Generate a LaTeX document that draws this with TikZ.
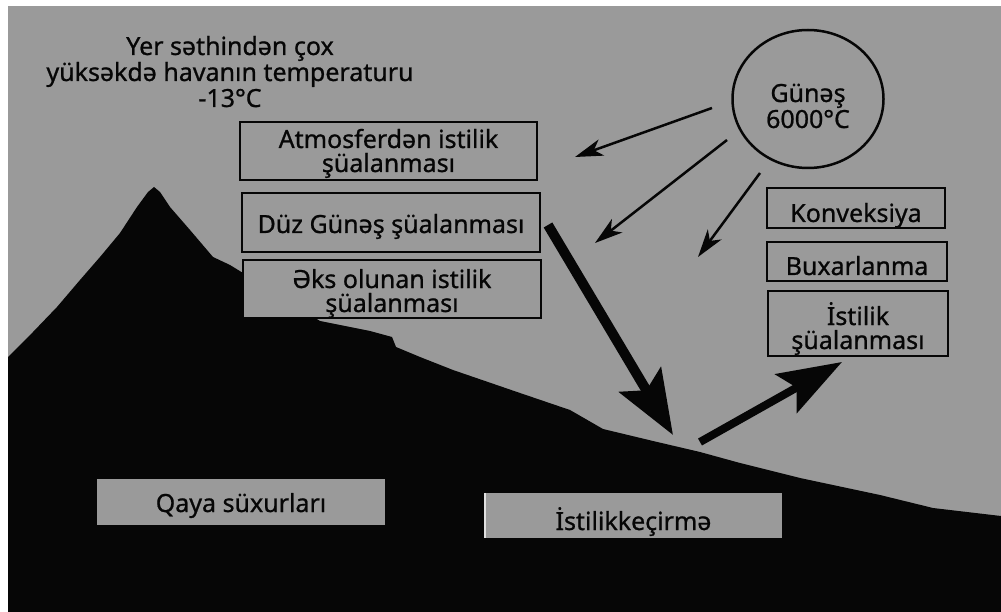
\documentclass[tikz,border=0pt]{standalone}
\usepackage{fontspec}
\setmainfont{Noto Sans}[FakeBold=0.8]
\usetikzlibrary{arrows.meta,shapes.geometric}
\definecolor{paper}{RGB}{154,154,154}
\definecolor{ink}{RGB}{6,6,6}
\definecolor{edgelight}{RGB}{225,225,225}
% invisible struts that fix the top and bottom of a text block
\newcommand\padtop[1]{\rule{0pt}{#1}}
\newcommand\padbot[1]{\rule[-#1]{0pt}{#1}}
\begin{document}
\begin{tikzpicture}[x=1pt,y=-1pt,
  txt/.style={font=\fontsize{25}{24}\selectfont, text=ink, align=center, inner sep=0pt},
  panel/.style={txt, draw=ink, line width=2.6pt, fill=paper},
  groundbox/.style={txt, fill=paper},
  ray/.style={draw=ink, line width=2.5pt, -{Stealth[length=28pt,width=17pt,inset=8pt]}},
  beam/.style={draw=ink, line width=10pt, -{Stealth[length=64pt,width=48pt,inset=12pt]}},
]
\useasboundingbox (0,0) rectangle (1001,612);
\fill[white] (0,0) rectangle (1001,612);
\fill[paper] (8,6) rectangle (1001,612);

% mountain and ground
\fill[ink] (8,357) -- (33,332) -- (57,307) -- (80,280) -- (100,257) -- (120,233)
  -- (137,207) -- (148,192) -- (154,187) -- (160,192) -- (170,207) -- (190,230)
  -- (213,257) -- (230,265) -- (243,273) -- (320,321) -- (345,326) -- (370,331)
  -- (392,337) -- (396,347) -- (420,357) -- (453,370) -- (520,393) -- (570,410)
  -- (603,429) -- (653,441) -- (700,452) -- (740,463) -- (800,478) -- (880,495)
  -- (933,508) -- (1001,516) -- (1001,612) -- (8,612) -- cycle;

% heading
\node[txt, font=\fontsize{25}{26}\selectfont] (title) at (230,71.5)
  {\padtop{22pt}Yer səthindən çox\\yüksəkdə havanın temperaturu\\-13°C\padbot{3pt}};

% sun
\node[txt, font=\fontsize{25}{26}\selectfont, draw=ink, line width=2.5pt, ellipse,
  minimum width=151pt, minimum height=138pt] (sun) at (808,99)
  {\padtop{35pt}Günəş\\6000°C\padbot{3pt}};

% radiation panels
\node[panel, minimum width=297pt, minimum height=58pt] (atm) at (388.5,151)
  {\padtop{24pt}Atmosferdən istilik\\şüalanması\padbot{6pt}};
\node[panel, minimum width=298pt, minimum height=59pt] (direct) at (391,222.5)
  {\padtop{27pt}Düz Günəş şüalanması\padbot{6pt}};
\node[panel, minimum width=298pt, minimum height=58pt] (refl) at (392,289)
  {\padtop{28pt}Əks olunan istilik\\şüalanması\padbot{6pt}};

% surface heat losses
\node[panel, minimum width=178pt, minimum height=40pt] (conv) at (856,208)
  {\padtop{34pt}Konveksiya\padbot{6pt}};
\node[panel, minimum width=180pt, minimum height=39pt] (evap) at (857,261.5)
  {\padtop{29pt}Buxarlanma\padbot{2pt}};
\node[panel, minimum width=180pt, minimum height=65pt] (emit) at (858,323.5)
  {\padtop{33pt}İstilik\\şüalanması\padbot{6pt}};

% labels in the ground
\node[groundbox, minimum width=288pt, minimum height=46pt] (rock) at (241,502)
  {\padtop{26pt}Qaya süxurları\padbot{6pt}};
\node[groundbox, minimum width=297pt, minimum height=45pt] (cond) at (633.5,515.5)
  {\padtop{35pt}İstilikkeçirmə\padbot{6pt}};
\draw[edgelight, line width=1.5pt] (cond.north west) -- (cond.south west);

% ray end points
\coordinate (r1s) at (712,108); \coordinate (r1e) at (575,157);
\coordinate (r2s) at (727,140); \coordinate (r2e) at (595,243);
\coordinate (r3s) at (760,173); \coordinate (r3e) at (698,257);
\coordinate (b1s) at (548,225); \coordinate (b1e) at (673,435);
\coordinate (b2s) at (700,442); \coordinate (b2e) at (842,362);

\draw[ray] (r1s) -- (r1e);
\draw[ray] (r2s) -- (r2e);
\draw[ray] (r3s) -- (r3e);
\draw[beam] (b1s) -- (b1e);
\draw[beam, line width=8pt, -{Stealth[length=64pt,width=44pt,inset=12pt]}] (b2s) -- (b2e);
\end{tikzpicture}
\end{document}
